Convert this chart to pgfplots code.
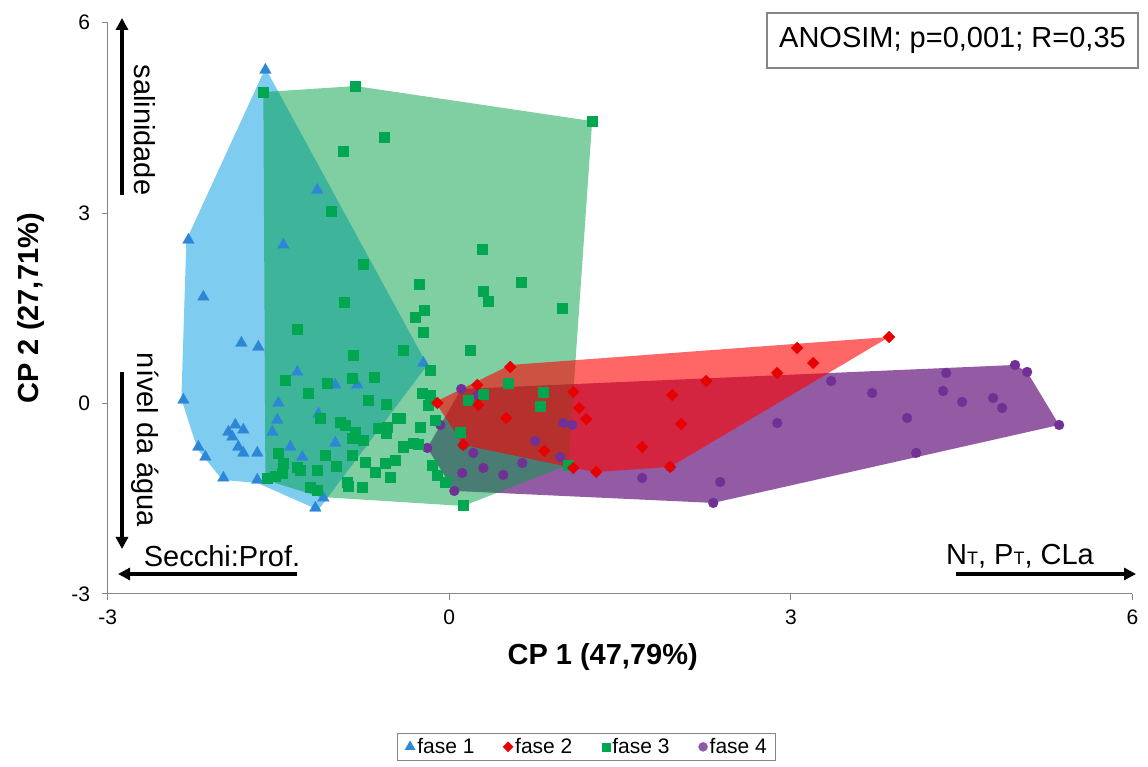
\documentclass[border=0pt]{standalone}
\usepackage{pgfplots}
\pgfplotsset{compat=1.18}
\usepackage{fontspec}
\setmainfont{Liberation Sans}
\usetikzlibrary{arrows.meta}
\definecolor{c1}{RGB}{46,134,214}
\definecolor{c1f}{RGB}{40,170,230}
\definecolor{c3}{RGB}{0,166,80}
\definecolor{c3f}{RGB}{0,160,70}
\definecolor{c2}{RGB}{232,0,0}
\definecolor{c2f}{RGB}{255,0,0}
\definecolor{c4}{RGB}{112,48,150}
\definecolor{c4f}{RGB}{120,50,140}
\definecolor{axgray}{RGB}{134,134,134}
\begin{document}
\begin{tikzpicture}
\path[use as bounding box] (0,0) rectangle (1148pt,767pt);
\begin{axis}[
  at={(107.7pt,173pt)}, anchor=south west,
  scale only axis, width=1024.8pt, height=571.3pt,
  xmin=-3, xmax=6, ymin=-3, ymax=6,
  axis lines*=left,
  axis line style={axgray, line width=1pt},
  xtick={-3,0,3,6}, ytick={-3,0,3,6},
  tick align=outside, major tick length=6pt,
  tick style={axgray, line width=1pt},
  /pgf/number format/assume math mode=true,
  tick label style={font=\fontsize{21}{24}\selectfont},
  xticklabel style={yshift=-6pt},
  yticklabel style={xshift=-8pt},
  xlabel={\bfseries CP 1 (47,79\%)},
  ylabel={\bfseries CP 2 (27,71\%)},
  label style={font=\fontsize{29}{32}\selectfont},
  xlabel style={at={(axis description cs:0.483,0)}, anchor=center, yshift=-63pt},
  ylabel style={at={(axis description cs:0,0.5)}, anchor=center, yshift=77pt},
  clip=false,
  legend columns=4,
  legend cell align=left,
  legend image code/.code={\draw[#1] plot coordinates {(0.18cm,0cm)}; \path (0cm,0cm) (0.3cm,0cm);},
  legend style={at={(axis description cs:0.2823,-0.2433)}, anchor=north west,
    draw=axgray, line width=1pt, font=\fontsize{21}{24}\selectfont,
    /tikz/every even column/.append style={column sep=26pt},
    inner sep=3pt, inner xsep=7pt},
]
\addlegendimage{only marks, mark=triangle*, mark size=6pt, color=c1, mark options={line width=0.2pt}}
\addlegendentry{fase 1}
\addlegendimage{only marks, mark=square*, mark size=3.6pt, color=c2, mark options={rotate=45, line width=0.2pt}}
\addlegendentry{fase 2}
\addlegendimage{only marks, mark=square*, mark size=4.2pt, color=c3, mark options={line width=0.2pt}}
\addlegendentry{fase 3}
\addlegendimage{only marks, mark=*, mark size=4.6pt, color=c4!80, mark options={line width=0.2pt}}
\addlegendentry{fase 4}

% ---- fase 1 polygon and points
\addplot[forget plot, draw=none, fill=c1f, fill opacity=0.6] coordinates {
(-1.615,5.285) (-0.193,0.608) (-1.150,-1.676) (-1.686,-1.250) (-1.993,-1.203)
(-2.212,-0.715) (-2.353,0.072) (-2.309,2.576)} -- cycle;
\addplot[forget plot, only marks, mark=triangle*, mark size=6.8pt, color=c1, mark options={line width=0.2pt}] coordinates {
(-1.615,5.254) (-2.291,2.576) (-2.160,1.679) (-1.457,2.498) (-1.159,3.364) (-1.826,0.954)
(-1.677,0.891) (-2.335,0.057) (-1.879,-0.337) (-1.809,-0.416) (-1.905,-0.526) (-1.853,-0.683)
(-1.809,-0.778) (-1.686,-0.778) (-2.204,-0.683) (-2.142,-0.841) (-1.984,-1.172) (-1.686,-1.203)
(-1.335,0.498) (-1.001,0.293) (-0.808,0.293) (-1.501,0.009) (-1.510,-0.258) (-1.150,-0.164)
(-1.554,-0.447) (-1.396,-0.683) (-1.291,-0.841) (-1.001,-0.620) (-1.106,-1.487) (-1.176,-1.644)
(-0.228,0.639) (-1.940,-0.447)};

% ---- fase 4 polygon and points
\addplot[forget plot, draw=none, fill=c4f, fill opacity=0.8] coordinates {
(-0.193,-0.699) (0.105,0.230) (4.969,0.608) (5.075,0.498) (5.356,-0.337) (2.318,-1.565) (0.044,-1.376)} -- cycle;
\addplot[forget plot, only marks, mark=*, mark size=5pt, color=c4, mark options={line width=0.2pt}] coordinates {
(3.354,0.356) (3.714,0.167) (2.880,-0.306) (4.021,-0.227) (4.364,0.482) (4.337,0.198)
(4.504,0.025) (4.776,0.088) (4.855,-0.069) (4.969,0.608) (5.075,0.498) (5.356,-0.337)
(4.100,-0.778) (2.379,-1.235) (2.318,-1.565) (0.105,0.230) (0.123,-0.652) (0.211,-0.778)
(0.299,-1.014) (0.474,-1.124) (0.641,-0.935) (0.114,-1.093) (0.044,-1.376) (-0.193,-0.699)
(-0.079,-0.337) (0.105,-0.447) (0.755,-0.589) (0.975,-0.841) (1.001,-0.306) (1.080,-0.337)
(1.694,-1.172) (1.940,-0.998) (0.246,0.135)};

% ---- fase 3 polygon and points
\addplot[forget plot, draw=none, fill=c3f, fill opacity=0.5] coordinates {
(-1.633,4.907) (-0.825,5.002) (1.255,4.450) (1.045,-0.967) (0.123,-1.613) (-1.133,-1.471) (-1.615,-1.203)} -- cycle;
\addplot[forget plot, only marks, mark=square*, mark size=4.8pt, color=c3, mark options={line width=0.2pt}] coordinates {
(-1.633,4.907) (-0.825,5.002) (-0.571,4.198) (-0.931,3.978) (1.255,4.450) (-1.036,3.033)
(-0.755,2.198) (-0.922,1.600) (-1.335,1.175) (-0.263,1.883) (-0.219,1.474) (-0.299,1.364)
(-0.228,1.128) (0.290,2.435) (0.632,1.915) (0.299,1.773) (0.342,1.616) (0.992,1.506)
(-0.843,0.765) (-0.404,0.844) (0.184,0.844) (-1.440,0.372) (-1.071,0.324) (-0.852,0.403)
(-0.658,0.419) (-1.238,0.167) (-0.711,0.057) (-0.553,-0.006) (-0.167,0.529) (-0.237,0.167)
(-0.167,0.135) (-0.184,-0.022) (-1.133,-0.227) (-0.957,-0.290) (-0.913,-0.337) (-0.825,-0.447)
(-0.852,-0.542) (-0.755,-0.573) (-0.623,-0.384) (-0.544,-0.369) (-0.457,-0.227) (-0.553,-0.463)
(-0.255,-0.369) (-0.123,-0.258) (-0.404,-0.683) (-0.316,-0.620) (-0.272,-0.636) (-1.501,-0.778)
(-1.457,-0.935) (-1.089,-0.809) (-0.852,-0.809) (-1.335,-0.998) (-1.308,-1.046) (-1.159,-1.046)
(-0.992,-0.983) (-0.737,-0.920) (-0.562,-0.935) (-0.474,-0.888) (-0.650,-1.077) (-0.518,-1.156)
(-0.149,-0.967) (-0.105,-1.124) (-0.035,-1.235) (-1.598,-1.172) (-1.528,-1.140) (-1.466,-1.093)
(-1.220,-1.313) (-1.159,-1.361) (-0.896,-1.235) (-0.887,-1.298) (-0.764,-1.313) (0.123,-1.597)
(0.518,0.324) (0.825,0.183) (0.799,-0.038) (0.299,0.151) (0.167,0.057) (0.097,-0.447)
(-0.430,-0.227) (-0.404,-0.668) (1.045,-0.967)};

% ---- fase 2 polygon and points
\addplot[forget plot, draw=none, fill=c2f, fill opacity=0.6] coordinates {
(-0.123,0.025) (0.536,0.608) (3.863,1.049) (1.940,-0.998) (1.291,-1.077) (1.089,-1.014) (0.123,-0.652)} -- cycle;
\addplot[forget plot, only marks, mark=square*, mark size=4.2pt, color=c2, mark options={rotate=45, line width=0.2pt}] coordinates {
(3.863,1.049) (3.055,0.876) (3.196,0.639) (2.880,0.482) (2.256,0.356) (0.536,0.576)
(0.246,0.293) (-0.105,0.009) (0.255,-0.022) (0.500,-0.227) (1.089,0.183) (1.141,-0.069)
(1.203,-0.243) (1.958,0.135) (2.037,-0.321) (1.694,-0.683) (0.834,-0.746) (1.089,-1.014)
(1.291,-1.077) (1.940,-0.998) (0.123,-0.652)};
\end{axis}

% annotations (page coordinates in pt)
\draw[line width=3.5pt, -{Triangle[length=12pt,width=12pt]}] (122pt,572pt) -- (122pt,749pt);
\node[rotate=-90, font=\fontsize{29}{32}\selectfont] at (145pt,637pt) {salinidade};
\draw[line width=3.5pt, -{Triangle[length=12pt,width=12pt]}] (122pt,395pt) -- (122pt,218pt);
\node[rotate=-90, font=\fontsize{29}{32}\selectfont] at (145pt,327pt) {nível da água};
\draw[line width=3.5pt, -{Triangle[length=12pt,width=12pt]}] (297pt,193pt) -- (118pt,193pt);
\node[font=\fontsize{29}{32}\selectfont] at (222pt,211pt) {Secchi:Prof.};
\draw[line width=3.5pt, -{Triangle[length=12pt,width=12pt]}] (956pt,193pt) -- (1136pt,193pt);
\node[font=\fontsize{29}{32}\selectfont] at (1020pt,211pt) {N{\fontsize{18}{18}\selectfont T}, P{\fontsize{18}{18}\selectfont T}, CLa};
\draw[axgray, line width=1.8pt, fill=white] (767pt,699pt) rectangle (1138pt,754pt);
\node[font=\fontsize{29}{32}\selectfont] at (952.5pt,726.5pt) {ANOSIM; p=0,001; R=0,35};
\end{tikzpicture}
\end{document}
